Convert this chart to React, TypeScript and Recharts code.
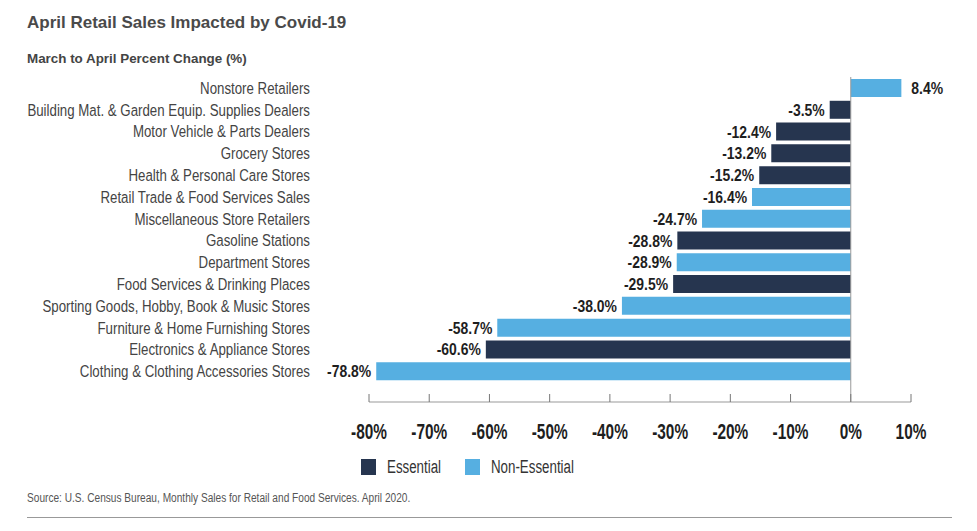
import React from "react";
import { BarChart, Bar, XAxis, YAxis, Cell, LabelList, ReferenceLine } from "recharts";

const categories = [
  "Nonstore Retailers",
  "Building Mat. & Garden Equip. Supplies Dealers",
  "Motor Vehicle & Parts Dealers",
  "Grocery Stores",
  "Health & Personal Care Stores",
  "Retail Trade & Food Services Sales",
  "Miscellaneous Store Retailers",
  "Gasoline Stations",
  "Department Stores",
  "Food Services & Drinking Places",
  "Sporting Goods, Hobby, Book & Music Stores",
  "Furniture & Home Furnishing Stores",
  "Electronics & Appliance Stores",
  "Clothing & Clothing Accessories Stores",
];
const changes = [8.4, -3.5, -12.4, -13.2, -15.2, -16.4, -24.7, -28.8, -28.9, -29.5, -38.0, -58.7, -60.6, -78.8];
const groups = ["N", "E", "E", "E", "E", "N", "N", "E", "N", "E", "N", "N", "E", "N"];
const xTicks = [-80, -70, -60, -50, -40, -30, -20, -10, 0, 10];
const legendNames = ["Essential", "Non-Essential"];

const COLORS: Record<string, string> = { E: "#26354F", N: "#56AFE1" };
const SANS = "'Liberation Sans', Arial, Helvetica, sans-serif";

const data = categories.map((c, i) => ({ name: c, value: changes[i], group: groups[i] }));

const YTick = (props: any) => {
  const { x, y, payload } = props;
  return (
    <text
      transform={`translate(${x},${y + 6}) scale(0.805,1)`}
      textAnchor="end"
      fontFamily={SANS}
      fontSize={16.5}
      fill="#444"
    >
      {payload.value}
    </text>
  );
};

const XTick = (props: any) => {
  const { x, y, payload } = props;
  return (
    <g>
      <line x1={x} x2={x} y1={y - 8} y2={y} stroke="#777" strokeWidth={1} />
      <text
        transform={`translate(${x},${y + 37}) scale(0.7,1)`}
        textAnchor="middle"
        fontFamily={SANS}
        fontWeight="bold"
        fontSize={22}
        fill="#1e1e1e"
      >
        {payload.value}%
      </text>
    </g>
  );
};

const ValueLabel = (props: any) => {
  const { x, y, width, height, value } = props;
  const neg = value < 0;
  const tx = neg ? x + width - 5 : x + width + 10;
  return (
    <text
      transform={`translate(${tx},${y + height / 2 + 6}) scale(0.82,1)`}
      textAnchor={neg ? "end" : "start"}
      fontFamily={SANS}
      fontWeight="bold"
      fontSize={17}
      fill="#1e1e1e"
    >
      {value.toFixed(1)}%
    </text>
  );
};

export default function App() {
  return (
    <div style={{ position: "absolute", left: 0, top: 0, width: 977, height: 531, background: "#fff", overflow: "hidden" }}>
      <div style={{ position: "absolute", left: 27, top: 13, fontFamily: SANS, fontWeight: 700, fontSize: 17, color: "#4a4a4a", whiteSpace: "nowrap" }}>
        April Retail Sales Impacted by Covid-19
      </div>
      <div style={{ position: "absolute", left: 27, top: 51, fontFamily: SANS, fontWeight: 700, fontSize: 13.4, color: "#444", whiteSpace: "nowrap" }}>
        March to April Percent Change (%)
      </div>
      <BarChart
        width={977}
        height={531}
        data={data}
        layout="vertical"
        margin={{ top: 77, right: 66, bottom: 89, left: 0 }}
        barCategoryGap={2}
      >
        <XAxis
          type="number"
          dataKey="value"
          domain={[-80, 10]}
          ticks={xTicks}
          interval={0}
          height={40}
          tickSize={0}
          tickMargin={0}
          tickLine={false}
          axisLine={{ stroke: "#999" }}
          tick={<XTick />}
        />
        <YAxis
          type="category"
          dataKey="name"
          width={369}
          tickSize={0}
          tickMargin={59}
          tickLine={false}
          axisLine={false}
          interval={0}
          padding={{ top: 0, bottom: 20 }}
          tick={<YTick />}
        />
        <ReferenceLine x={0} stroke="#999" strokeWidth={1} />
        <Bar dataKey="value" isAnimationActive={false}>
          {data.map((d, i) => (
            <Cell key={i} fill={COLORS[d.group]} />
          ))}
          <LabelList dataKey="value" content={<ValueLabel />} />
        </Bar>
      </BarChart>
      {legendNames.map((n, i) => (
        <div key={n} style={{ position: "absolute", left: i === 0 ? 361 : 465, top: 459, height: 16, display: "flex", alignItems: "center", whiteSpace: "nowrap" }}>
          <div style={{ width: 15, height: 16, background: i === 0 ? COLORS.E : COLORS.N }} />
          <span style={{ display: "inline-block", marginLeft: 11, fontFamily: SANS, fontSize: 18, color: "#333", transform: "scaleX(0.74)", transformOrigin: "left center" }}>{n}</span>
        </div>
      ))}
      <div style={{ position: "absolute", left: 27, top: 491, fontFamily: SANS, fontSize: 12.5, color: "#555", whiteSpace: "nowrap", transform: "scaleX(0.81)", transformOrigin: "left top" }}>
        Source: U.S. Census Bureau, Monthly Sales for Retail and Food Services. April 2020.
      </div>
      <div style={{ position: "absolute", left: 27, top: 517, width: 925, height: 1, background: "#999" }} />
    </div>
  );
}
